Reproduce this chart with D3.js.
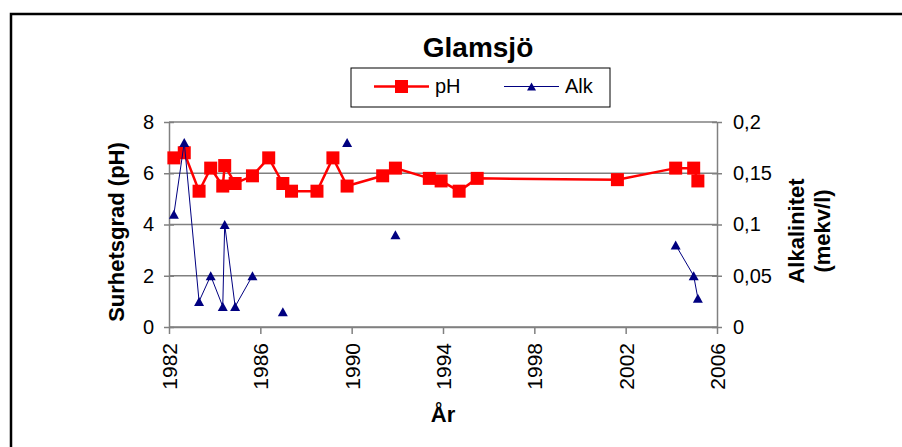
<!DOCTYPE html>
<html>
<head>
<meta charset="utf-8">
<script src="https://cdn.jsdelivr.net/npm/d3@7"></script>
<style>
  html, body { margin: 0; padding: 0; background: #fff; }
  svg { display: block; }
  text { font-family: "Liberation Sans", Arial, sans-serif; fill: #000; }
</style>
</head>
<body>
<svg id="chart" width="902" height="447"></svg>
<script>
// Glamsjö: pH and alkalinity samples, 1982–2005
const sampleDates = [
  "1982-03-20", "1982-09-02", "1983-04-27", "1983-10-30", "1984-05-10", "1984-06-10",
  "1984-11-24", "1985-08-28", "1986-05-15", "1986-12-27", "1987-05-15", "1988-06-25",
  "1989-03-07", "1989-10-20", "1991-05-12", "1991-12-02", "1993-05-27", "1993-12-02",
  "1994-09-16", "1995-07-02", "2001-08-22", "2004-03-11", "2004-12-24", "2005-03-01"
];
const phValues = [
  6.6, 6.8, 5.3, 6.2, 5.5, 6.3,
  5.6, 5.9, 6.6, 5.6, 5.3, 5.3,
  6.6, 5.5, 5.9, 6.2, 5.8, 5.7,
  5.3, 5.8, 5.75, 6.2, 6.2, 5.7
];
const alkValues = [
  0.11, 0.18, 0.025, 0.05, 0.02, 0.10,
  0.02, 0.05, null, 0.015, null, null,
  null, 0.18, null, 0.09, null, null,
  null, null, null, 0.08, 0.05, 0.028
];
const phTicks = [0, 2, 4, 6, 8];
const alkTicks = [0, 0.05, 0.1, 0.15, 0.2];
const yearTicks = [1982, 1986, 1990, 1994, 1998, 2002, 2006];

const chartTitle = "Glamsjö";
const phAxisTitle = "Surhetsgrad (pH)";
const alkAxisTitle = ["Alkalinitet", "(mekv/l)"];
const xAxisTitle = "År";
const seriesNames = ["pH", "Alk"];

const parseDate = d3.timeParse("%Y-%m-%d");
const rows = sampleDates.map((s, i) => ({ date: parseDate(s), ph: phValues[i], alk: alkValues[i] }));

const svg = d3.select("#chart");
const plot = { left: 169, right: 717, top: 122, bottom: 327 };

const PH_RED = "#ff0000";
const ALK_NAVY = "#000080";
const GRID = "#808080";

// chart area frame
svg.append("rect")
  .attr("x", 11).attr("y", 14).attr("width", 1000).attr("height", 1000)
  .attr("fill", "#fff").attr("stroke", "#000").attr("stroke-width", 2.5);

const x = d3.scaleTime()
  .domain([new Date(yearTicks[0], 0, 1), new Date(yearTicks[yearTicks.length - 1], 0, 1)])
  .range([plot.left, plot.right]);
const yPh = d3.scaleLinear().domain([phTicks[0], phTicks[phTicks.length - 1]]).range([plot.bottom, plot.top]);
const yAlk = d3.scaleLinear().domain([alkTicks[0], alkTicks[alkTicks.length - 1]]).range([plot.bottom, plot.top]);

const comma = d3.formatLocale({ decimal: ",", thousands: " ", grouping: [3], currency: ["", " kr"] });
const alkFmt = v => comma.format("~g")(v);

// horizontal gridlines
svg.append("g")
  .selectAll("line")
  .data(phTicks)
  .join("line")
  .attr("x1", plot.left).attr("x2", plot.right)
  .attr("y1", d => yPh(d)).attr("y2", d => yPh(d))
  .attr("stroke", GRID).attr("stroke-width", 1.5);

function styleAxis(g) {
  g.select(".domain").attr("stroke", GRID).attr("stroke-width", 1.5);
  g.selectAll(".tick line").attr("stroke", GRID).attr("stroke-width", 1.5);
  g.selectAll(".tick text").style("font-size", "20px").attr("fill", "#000");
}

// left axis (pH)
const gLeft = svg.append("g")
  .attr("transform", `translate(${plot.left},0)`)
  .call(d3.axisLeft(yPh).tickValues(phTicks).tickSize(5).tickSizeOuter(0).tickPadding(10));
gLeft.selectAll(".tick line").attr("x1", 5);
styleAxis(gLeft);

// right axis (alkalinity)
const gRight = svg.append("g")
  .attr("transform", `translate(${plot.right},0)`)
  .call(d3.axisRight(yAlk).tickValues(alkTicks).tickFormat(alkFmt).tickSize(5).tickSizeOuter(0).tickPadding(11));
gRight.selectAll(".tick line").attr("x1", -5);
styleAxis(gRight);

// bottom axis (years)
const gBottom = svg.append("g")
  .attr("transform", `translate(0,${plot.bottom})`)
  .call(d3.axisBottom(x).tickValues(yearTicks.map(y => new Date(y, 0, 1))).tickFormat(d3.timeFormat("%Y")).tickSize(7).tickSizeOuter(0));
styleAxis(gBottom);
gBottom.selectAll(".tick text")
  .attr("transform", "rotate(-90)")
  .attr("x", -16).attr("y", 0).attr("dy", "0.36em")
  .attr("text-anchor", "end")
  .style("font-size", "21px");

// pH series
const phLine = d3.line().x(d => x(d.date)).y(d => yPh(d.ph));
svg.append("path")
  .datum(rows)
  .attr("d", phLine)
  .attr("fill", "none").attr("stroke", PH_RED).attr("stroke-width", 2.5);
const SQ = 13;
svg.append("g")
  .selectAll("rect")
  .data(rows)
  .join("rect")
  .attr("x", d => x(d.date) - SQ / 2).attr("y", d => yPh(d.ph) - SQ / 2)
  .attr("width", SQ).attr("height", SQ)
  .attr("fill", PH_RED);

// alkalinity series, broken where no sample exists
const alkLine = d3.line().defined(d => d.alk != null).x(d => x(d.date)).y(d => yAlk(d.alk));
svg.append("path")
  .datum(rows)
  .attr("d", alkLine)
  .attr("fill", "none").attr("stroke", ALK_NAVY).attr("stroke-width", 1);
const triangle = (w, h) => `M0,${-h / 2}L${w / 2},${h / 2}L${-w / 2},${h / 2}Z`;
svg.append("g")
  .selectAll("path")
  .data(rows.filter(d => d.alk != null))
  .join("path")
  .attr("transform", d => `translate(${x(d.date)},${yAlk(d.alk)})`)
  .attr("d", triangle(10, 9))
  .attr("fill", ALK_NAVY);

// titles
svg.append("text")
  .attr("x", 478).attr("y", 57)
  .attr("text-anchor", "middle")
  .style("font-size", "28px").style("font-weight", "bold")
  .text(chartTitle);

svg.append("text")
  .attr("transform", "translate(124,232) rotate(-90)")
  .attr("text-anchor", "middle")
  .style("font-size", "22px").style("font-weight", "bold")
  .text(phAxisTitle);

const rt = svg.append("text")
  .attr("transform", "translate(804,231) rotate(-90)")
  .attr("text-anchor", "middle")
  .style("font-size", "22px").style("font-weight", "bold");
rt.selectAll("tspan")
  .data(alkAxisTitle)
  .join("tspan")
  .attr("x", 0).attr("dy", (d, i) => i === 0 ? 0 : 26)
  .text(d => d);

svg.append("text")
  .attr("x", (plot.left + plot.right) / 2).attr("y", 422)
  .attr("text-anchor", "middle")
  .style("font-size", "22px").style("font-weight", "bold")
  .text(xAxisTitle);

// legend
const lg = svg.append("g");
lg.append("rect")
  .attr("x", 351).attr("y", 68).attr("width", 259).attr("height", 39)
  .attr("fill", "#fff").attr("stroke", "#000").attr("stroke-width", 1);
const ly = 86.5;
lg.append("line").attr("x1", 374).attr("x2", 429).attr("y1", ly).attr("y2", ly)
  .attr("stroke", PH_RED).attr("stroke-width", 2.5);
lg.append("rect").attr("x", 401.5 - SQ / 2).attr("y", ly - SQ / 2).attr("width", SQ).attr("height", SQ)
  .attr("fill", PH_RED);
lg.append("text").attr("x", 435).attr("y", 93).style("font-size", "20px").text(seriesNames[0]);
lg.append("line").attr("x1", 504).attr("x2", 559).attr("y1", ly).attr("y2", ly)
  .attr("stroke", ALK_NAVY).attr("stroke-width", 1);
lg.append("path").attr("transform", `translate(531.5,${ly})`).attr("d", triangle(9, 8))
  .attr("fill", ALK_NAVY);
lg.append("text").attr("x", 565).attr("y", 93).style("font-size", "20px").text(seriesNames[1]);
</script>
</body>
</html>
